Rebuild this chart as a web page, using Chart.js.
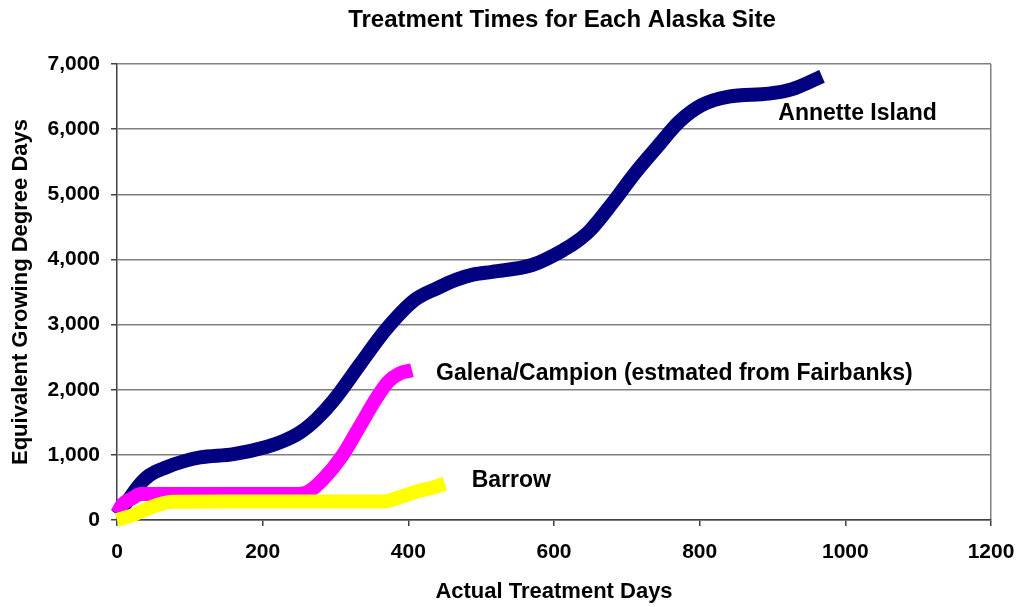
<!DOCTYPE html>
<html>
<head>
<meta charset="utf-8">
<script src="https://cdn.jsdelivr.net/npm/chart.js@4.4.1/dist/chart.umd.min.js"></script>
<style>
html,body{margin:0;padding:0;background:#ffffff;}
#wrap{width:1018px;height:607px;}
</style>
</head>
<body>
<div id="wrap"><canvas id="c" width="1018" height="607"></canvas></div>
<script>
// ---- Data ----
const annetteDays = [0, 15, 30, 45, 68, 91, 114, 160, 206, 228, 251, 274, 297, 335, 369, 409, 440, 466, 490, 515, 570, 613, 632, 650, 680, 711, 742, 772, 803, 840, 895, 926, 968];
const annetteGDD  = [80, 300, 530, 690, 810, 900, 960, 1010, 1125, 1210, 1340, 1550, 1830, 2410, 2920, 3380, 3560, 3690, 3770, 3810, 3914, 4145, 4280, 4452, 4862, 5322, 5731, 6115, 6370, 6500, 6545, 6610, 6810];

const galenaDays = [0, 8, 22, 32, 60, 150, 250, 262, 282, 309, 334, 355, 372, 388, 405];
const galenaGDD  = [100, 245, 340, 400, 400, 400, 400, 430, 614, 982, 1450, 1850, 2120, 2250, 2300];

const barrowDays = [0, 22, 55, 77, 150, 250, 365, 389, 416, 434, 450];
const barrowGDD  = [0, 77, 230, 280, 284, 284, 284, 353, 453, 499, 560];

const seriesNames = ["Annette Island", "Galena/Campion (estmated from Fairbanks)", "Barrow"];
// label anchors in data units: [day, gdd]
const labelAnchors = [[908, 6140], [438, 2149], [487, 507]];

const xTickValues = [0, 200, 400, 600, 800, 1000, 1200];
const yTickValues = [0, 1000, 2000, 3000, 4000, 5000, 6000, 7000];

const titleText = "Treatment Times for Each Alaska Site";
const xTitle = "Actual Treatment Days";
const yTitle = "Equivalent Growing Degree Days";

// ---- Build ----
const FONT = "'Liberation Sans', Arial, Helvetica, sans-serif";
function pts(xs, ys){ return xs.map((x,i)=>({x:x, y:ys[i]})); }

const lineCommon = {
  borderWidth: 14,
  pointRadius: 0,
  pointHoverRadius: 0,
  fill: false,
  cubicInterpolationMode: 'monotone',
  borderCapStyle: 'butt',
  borderJoinStyle: 'round',
  clip: false
};

const labelsPlugin = {
  id: 'labelsPlugin',
  afterDraw(chart){
    const ctx = chart.ctx;
    const xs = chart.scales.x, ys = chart.scales.y;
    ctx.save();
    ctx.fillStyle = '#000';
    ctx.font = "bold 24px " + FONT;
    ctx.textAlign = 'center';
    ctx.textBaseline = 'alphabetic';
    ctx.fillText(titleText, 562, 27);
    ctx.font = "bold 23px " + FONT;
    ctx.textAlign = 'left';
    seriesNames.forEach((n,i)=>{
      const a = labelAnchors[i];
      ctx.fillText(n, xs.getPixelForValue(a[0]), ys.getPixelForValue(a[1]));
    });
    ctx.restore();
  }
};

new Chart(document.getElementById('c'), {
  type: 'line',
  data: {
    datasets: [
      Object.assign({}, lineCommon, {label: seriesNames[0], data: pts(annetteDays, annetteGDD), borderColor: '#000080', backgroundColor: '#000080', order: 3}),
      Object.assign({}, lineCommon, {label: seriesNames[1], data: pts(galenaDays, galenaGDD), borderColor: '#FF00FF', backgroundColor: '#FF00FF', order: 2}),
      Object.assign({}, lineCommon, {label: seriesNames[2], data: pts(barrowDays, barrowGDD), borderColor: '#FFFF00', backgroundColor: '#FFFF00', order: 1})
    ]
  },
  options: {
    responsive: false,
    animation: false,
    events: [],
    layout: { padding: { left: 0, right: 27, top: 64, bottom: 0 } },
    plugins: { legend: { display: false }, tooltip: { enabled: false }, title: { display: false } },
    scales: {
      x: {
        type: 'linear',
        min: 0, max: 1200,
        afterBuildTicks(scale){ scale.ticks = xTickValues.map(v=>({value:v})); },
        afterFit(scale){ scale.height = 87; scale.paddingLeft = 0; scale.paddingRight = 0; },
        grid: {
          drawOnChartArea: true,
          color: (c)=> (c.tick && c.tick.value === 1200) ? '#808080' : 'rgba(0,0,0,0)',
          tickColor: '#404040',
          tickLength: 6,
          lineWidth: 1.5
        },
        border: { display: true, color: '#404040', width: 1.5 },
        ticks: { color: '#000', font: { family: FONT, size: 21, weight: 'bold' }, padding: 14, maxRotation: 0, autoSkip: false,
          callback: (v)=> String(v) },
        title: { display: true, text: xTitle, color: '#000', font: { family: FONT, size: 22, weight: 'bold' }, padding: { top: 0, bottom: 2 } }
      },
      y: {
        type: 'linear',
        min: 0, max: 7000,
        afterBuildTicks(scale){ scale.ticks = yTickValues.map(v=>({value:v})); },
        afterFit(scale){ scale.width = 117; },
        grid: { color: '#808080', tickColor: '#404040', tickLength: 6, lineWidth: 1.5 },
        border: { display: true, color: '#404040', width: 1.5 },
        ticks: {
          color: '#000', font: { family: FONT, size: 21, weight: 'bold' }, padding: 11, autoSkip: false,
          callback: (v)=> Number(v).toLocaleString('en-US')
        },
        title: { display: true, text: yTitle, color: '#000', font: { family: FONT, size: 22, weight: 'bold' }, padding: { top: 8, bottom: 0 } }
      }
    }
  },
  plugins: [labelsPlugin]
});
</script>
</body>
</html>
